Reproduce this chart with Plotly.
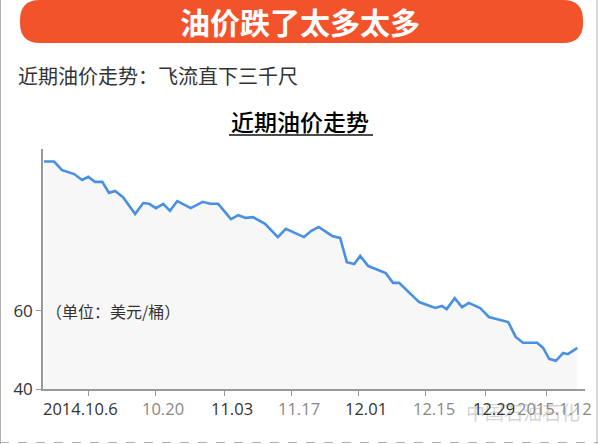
import plotly.graph_objects as go

# ---- data ----
day_index = [0, 1.5, 2.7, 3.6, 4.5, 5.7, 6.6, 7.6, 8.7, 9.7, 10.6, 11.8, 13.6, 14.8, 15.7,
             16.7, 17.8, 18.8, 19.9, 21.9, 23.7, 24.8, 26.0, 27.9, 29.0, 30.1, 31.2, 33.0,
             34.9, 36.1, 37.5, 38.8, 39.9, 41.0, 43.0, 44.2, 45.2, 46.3, 47.2, 48.4, 51.0,
             52.1, 53.0, 56.0, 57.6, 58.4, 59.4, 60.1, 61.3, 62.4, 63.4, 65.1, 66.4, 69.3,
             70.4, 71.5, 73.6, 74.5, 75.4, 76.4, 77.5, 78.2, 79.6]
price = [98.1, 98.1, 95.9, 95.4, 94.9, 93.4, 94.2, 92.9, 92.9, 90.1, 90.6, 89.0, 84.7, 87.5,
         87.3, 86.2, 87.3, 85.5, 88.0, 86.2, 87.8, 87.3, 87.3, 83.4, 84.4, 83.7, 83.9, 82.2,
         78.8, 80.9, 79.9, 78.8, 80.4, 81.4, 79.1, 78.6, 72.4, 71.9, 74.0, 71.4, 69.6, 67.1,
         67.1, 62.2, 61.2, 60.7, 61.2, 60.4, 63.2, 60.9, 62.0, 60.7, 58.4, 57.1, 53.3, 51.8,
         51.8, 50.5, 47.7, 47.2, 49.2, 48.9, 50.5]

tick_pos = [6.57, 16.57, 26.87, 36.87, 46.87, 57.0, 65.97, 75.07]
tick_labels = ["2014.10.6", "10.20", "11.03", "11.17", "12.01", "12.15", "12.29", "2015.1.12"]
y_ticks = [40, 60]

banner_title = "油价跌了太多太多"
subtitle = "近期油价走势：飞流直下三千尺"
chart_title = "近期油价走势"
unit_label = "（单位：美元/桶）"
watermark = "中国石油石化"

# ---- geometry helpers (pixel -> paper) ----
L, R, T, B = 43, 585, 149, 389
W, H = R - L, B - T
def px(x):
    return (x - L) / W
def py(y):
    return (B - y) / H

FONT = "Noto Sans CJK SC"

fig = go.Figure()
fig.add_trace(go.Scatter(
    x=day_index, y=price, mode="lines",
    line=dict(color="#4a90e2", width=2.6),
    fill="tozeroy", fillcolor="#f7f7f7",
    hoverinfo="skip", showlegend=False,
))

shapes = []
# banner (rounded rectangle)
bx0, bx1, by0, by1, r = 20, 583, 0, 43, 20
path = (f"M {px(bx0 + r)} {py(by0)} L {px(bx1 - r)} {py(by0)} "
        f"Q {px(bx1)} {py(by0)} {px(bx1)} {py(by0 + r)} "
        f"L {px(bx1)} {py(by1 - r)} Q {px(bx1)} {py(by1)} {px(bx1 - r)} {py(by1)} "
        f"L {px(bx0 + r)} {py(by1)} Q {px(bx0)} {py(by1)} {px(bx0)} {py(by1 - r)} "
        f"L {px(bx0)} {py(by0 + r)} Q {px(bx0)} {py(by0)} {px(bx0 + r)} {py(by0)} Z")
shapes.append(dict(type="path", xref="paper", yref="paper", path=path,
                   fillcolor="#f3532b", line=dict(width=0), layer="above"))
# underline of chart title
shapes.append(dict(type="line", xref="paper", yref="paper",
                   x0=px(229), x1=px(373), y0=py(135), y1=py(135),
                   line=dict(color="#111", width=1.5)))
# frame lines
shapes.append(dict(type="line", xref="paper", yref="paper",
                   x0=px(0.5), x1=px(0.5), y0=py(0), y1=py(444),
                   line=dict(color="#b0b0b0", width=1)))
shapes.append(dict(type="line", xref="paper", yref="paper",
                   x0=px(597), x1=px(597), y0=py(0), y1=py(444),
                   line=dict(color="#b0b0b0", width=1)))
shapes.append(dict(type="line", xref="paper", yref="paper",
                   x0=px(0), x1=px(598), y0=py(442.5), y1=py(442.5),
                   line=dict(color="#b0b0b0", width=1, dash="dash")))

annotations = [
    dict(text=f"<b>{banner_title}</b>", x=px(300), y=py(21), xref="paper", yref="paper",
         showarrow=False, font=dict(family=FONT, size=30, color="white"),
         xanchor="center", yanchor="middle"),
    dict(text=subtitle, x=px(16), y=py(75), xref="paper", yref="paper",
         showarrow=False, font=dict(family=FONT, size=20, color="#333"),
         xanchor="left", yanchor="middle"),
    dict(text=chart_title, x=px(300), y=py(121), xref="paper", yref="paper",
         showarrow=False, font=dict(family=FONT, size=23, color="#000", weight=500),
         xanchor="center", yanchor="middle"),
    dict(text=unit_label, x=px(44), y=py(311), xref="paper", yref="paper",
         showarrow=False, font=dict(family=FONT, size=16, color="#333"),
         xanchor="left", yanchor="middle"),
    dict(text=watermark, x=px(582), y=py(411), xref="paper", yref="paper",
         showarrow=False, font=dict(family=FONT, size=19, color="rgba(170,170,170,0.5)"),
         xanchor="right", yanchor="middle"),
]
colors = ["#333", "#888"]
for i, (pos, lab) in enumerate(zip(tick_pos, tick_labels)):
    annotations.append(dict(
        text=lab, x=pos, xref="x", y=py(408), yref="paper",
        showarrow=False, xanchor="center", yanchor="middle",
        xshift=-8 if i == 0 else 8,
        font=dict(family="Open Sans", size=16.5, color=colors[i % 2]),
    ))

fig.update_layout(
    width=598, height=444, autosize=False,
    margin=dict(l=L, r=598 - R, t=T, b=444 - B, pad=0),
    paper_bgcolor="white", plot_bgcolor="white",
    showlegend=False,
    shapes=shapes, annotations=annotations,
    xaxis=dict(range=[-0.15, 80.75], showgrid=False, zeroline=False,
               showline=True, linecolor="#999", linewidth=1.5,
               tickmode="array", tickvals=tick_pos, ticktext=[""] * len(tick_pos),
               ticks="outside", ticklen=5, tickcolor="#999", tickwidth=1),
    yaxis=dict(range=[40, 101.3], showgrid=False, zeroline=False,
               showline=True, linecolor="#999", linewidth=1.5,
               tickmode="array", tickvals=y_ticks, ticktext=[str(v) for v in y_ticks],
               ticks="outside", ticklen=5, tickcolor="#999", tickwidth=1,
               tickfont=dict(family="Open Sans", size=17, color="#333")),
)

fig.write_html("out.html", config={"displayModeBar": False},
               post_script="document.body.style.margin='0';document.body.style.overflow='hidden';")
